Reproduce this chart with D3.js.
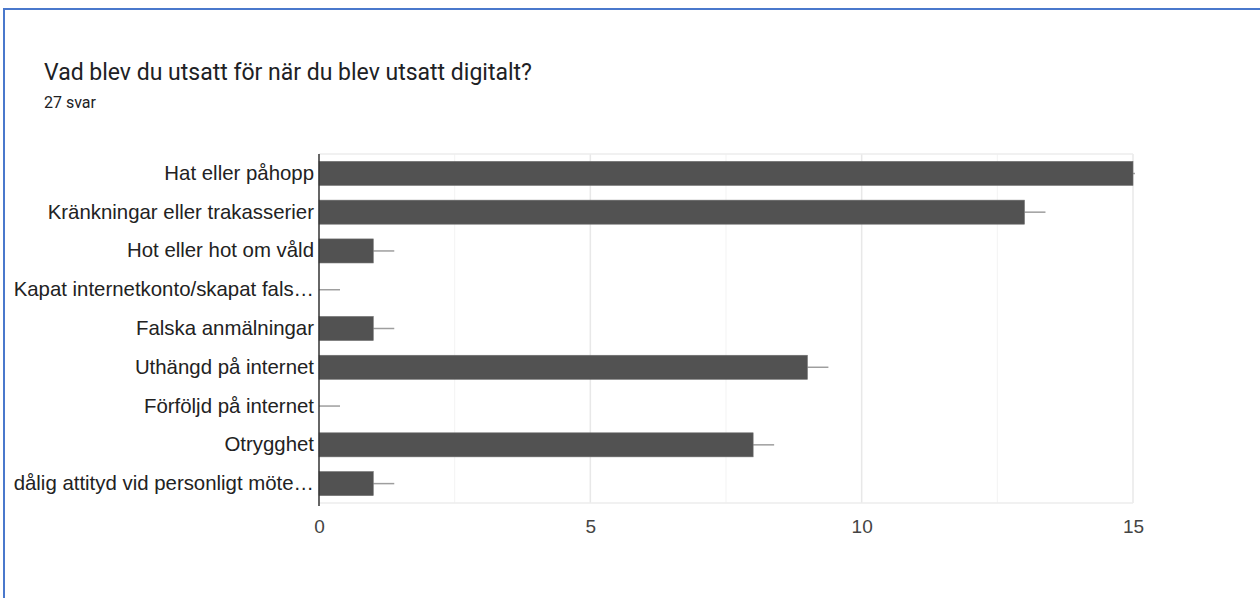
<!DOCTYPE html>
<html>
<head>
<meta charset="utf-8">
<script src="https://cdn.jsdelivr.net/npm/d3@7"></script>
<style>
  html, body { margin: 0; padding: 0; background: #fff; }
  svg { display: block; }
</style>
</head>
<body>
<svg id="chart"></svg>
<script>
// ---- Data ----
const categories = [
  'Hat eller påhopp',
  'Kränkningar eller trakasserier',
  'Hot eller hot om våld',
  'Kapat internetkonto/skapat fals…',
  'Falska anmälningar',
  'Uthängd på internet',
  'Förföljd på internet',
  'Otrygghet',
  'dålig attityd vid personligt möte…'
];
const counts = [15, 13, 1, 0, 1, 9, 0, 8, 1];
const xTicks = [0, 5, 10, 15];
const minorTicks = [2.5, 7.5, 12.5];
const title = 'Vad blev du utsatt för när du blev utsatt digitalt?';
const subtitle = '27 svar';

(function () {
  const width = 1260, height = 598;
  const svg = d3.select('#chart').attr('width', width).attr('height', height);

  const plot = { left: 319, right: 1133, top: 154, bottom: 503 };

  // ---- Frame (blue border, cropped on right/bottom) ----
  svg.append('path')
    .attr('d', `M4,${height} V9 H${width}`)
    .attr('fill', 'none')
    .attr('stroke', '#4a78cc')
    .attr('stroke-width', 2);

  // ---- Title ----
  svg.append('text')
    .attr('x', 44).attr('y', 80)
    .style('font-family', 'Roboto, "Open Sans", sans-serif')
    .style('font-size', '23px')
    .attr('fill', '#202124')
    .text(title);

  svg.append('text')
    .attr('x', 44).attr('y', 108)
    .style('font-family', 'Roboto, sans-serif')
    .style('font-size', '16px')
    .attr('fill', '#202124')
    .text(subtitle);

  // ---- Scales ----
  const x = d3.scaleLinear().domain([0, 15]).range([plot.left, plot.right]);
  const y = d3.scaleBand().domain(categories).range([plot.top, plot.bottom]).paddingInner(0.38).paddingOuter(0.19);

  // ---- Grid ----
  const grid = svg.append('g');
  grid.selectAll('.minor').data(minorTicks).join('line')
    .attr('x1', d => x(d)).attr('x2', d => x(d))
    .attr('y1', plot.top).attr('y2', plot.bottom)
    .attr('stroke', '#f3f3f3').attr('stroke-width', 1);
  grid.selectAll('.major').data(xTicks.slice(1)).join('line')
    .attr('x1', d => x(d)).attr('x2', d => x(d))
    .attr('y1', plot.top).attr('y2', plot.bottom)
    .attr('stroke', '#e8e8e8').attr('stroke-width', 1.5);
  grid.append('line')
    .attr('x1', plot.left).attr('x2', plot.right)
    .attr('y1', plot.top).attr('y2', plot.top)
    .attr('stroke', '#ececec').attr('stroke-width', 1.5);
  grid.append('line')
    .attr('x1', plot.left).attr('x2', plot.right)
    .attr('y1', plot.bottom).attr('y2', plot.bottom)
    .attr('stroke', '#ececec').attr('stroke-width', 1.5);

  // ---- Stubs + bars ----
  svg.append('clipPath').attr('id', 'clip')
    .append('rect')
    .attr('x', plot.left).attr('y', plot.top)
    .attr('width', plot.right - plot.left + 2).attr('height', plot.bottom - plot.top);

  const rows = categories.map((c, i) => ({ cat: c, value: counts[i] }));

  svg.append('g').attr('clip-path', 'url(#clip)')
    .selectAll('line').data(rows).join('line')
    .attr('x1', d => x(d.value)).attr('x2', d => x(d.value) + 21)
    .attr('y1', d => y(d.cat) + y.bandwidth() / 2)
    .attr('y2', d => y(d.cat) + y.bandwidth() / 2)
    .attr('stroke', '#9e9e9e').attr('stroke-width', 1.5);

  svg.append('g')
    .selectAll('rect').data(rows.filter(d => d.value > 0)).join('rect')
    .attr('x', x(0))
    .attr('y', d => y(d.cat))
    .attr('width', d => x(d.value) - x(0))
    .attr('height', y.bandwidth())
    .attr('fill', '#525252')
    .attr('stroke', '#6e6e6e').attr('stroke-width', 0.6);

  // ---- Axes ----
  const yAxis = svg.append('g')
    .attr('transform', `translate(${plot.left},0)`)
    .call(d3.axisLeft(y).tickSize(0).tickPadding(5));
  yAxis.select('.domain').remove();
  yAxis.selectAll('text')
    .style('font-family', 'Arial, "Liberation Sans", sans-serif')
    .style('font-size', '20.4px')
    .attr('fill', '#222');

  svg.append('line')
    .attr('x1', plot.left).attr('x2', plot.left)
    .attr('y1', plot.top).attr('y2', plot.bottom + 3)
    .attr('stroke', '#333').attr('stroke-width', 1.5);

  const xAxis = svg.append('g')
    .attr('transform', `translate(0,${plot.bottom})`)
    .call(d3.axisBottom(x).tickValues(xTicks).tickSize(0).tickPadding(17));
  xAxis.select('.domain').remove();
  xAxis.selectAll('text')
    .style('font-family', 'Arial, "Liberation Sans", sans-serif')
    .style('font-size', '19px')
    .attr('fill', '#444');
})();
</script>
</body>
</html>
